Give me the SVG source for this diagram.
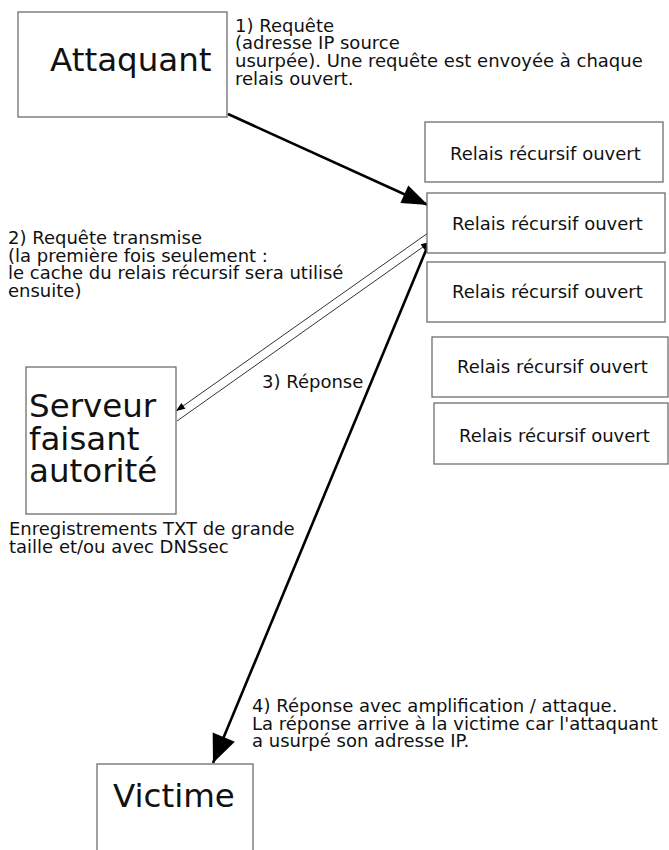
<svg xmlns="http://www.w3.org/2000/svg" width="669" height="850" viewBox="0 0 669 850">
  <style>
    .box { fill: #ffffff; stroke: #6e6e6e; stroke-width: 1.3; }
    .big { font-family: "DejaVu Sans", "Noto Sans", sans-serif; font-size: 32.5px; fill: #111111; }
    .txt { font-family: "DejaVu Sans", "Noto Sans", sans-serif; font-size: 18px; fill: #111111; }
    .thick { fill: none; stroke: #000000; stroke-width: 2.6; }
    .thin { fill: none; stroke: #333333; stroke-width: 1; }
  </style>
  <defs>
    <marker id="headL" markerUnits="userSpaceOnUse" viewBox="-30 -14 32 28" markerWidth="32" markerHeight="28" refX="0" refY="0" orient="auto">
      <path d="M0,0 L-26,-9.5 L-26,9.5 Z" fill="#000000"/>
    </marker>
    <marker id="headXL" markerUnits="userSpaceOnUse" viewBox="-32 -16 34 32" markerWidth="34" markerHeight="32" refX="0" refY="0" orient="auto">
      <path d="M0,0 L-28,-12 L-28,12 Z" fill="#000000"/>
    </marker>
    <marker id="headS" markerUnits="userSpaceOnUse" viewBox="-12 -6 14 12" markerWidth="14" markerHeight="12" refX="0" refY="0" orient="auto">
      <path d="M0,0 L-9,-3.5 L-9,3.5 Z" fill="#000000"/>
    </marker>
  </defs>

  <g id="connectors">
    <!-- 1) query from the attacker to the open resolver -->
    <line class="thick" x1="228" y1="114" x2="428" y2="205" marker-end="url(#headL)"/>
    <!-- 2) query forwarded to the authoritative server -->
    <line class="thin" x1="428" y1="233" x2="176" y2="411" marker-end="url(#headS)"/>
    <!-- 3) response back to the resolver -->
    <line class="thin" x1="177" y1="421" x2="430" y2="242" marker-end="url(#headS)"/>
    <!-- 4) amplified response to the victim -->
    <line class="thick" x1="429" y1="243" x2="213" y2="763" marker-end="url(#headXL)"/>
  </g>

  <g id="attaquant">
    <rect class="box" x="18" y="12" width="209" height="105"/>
    <text class="big" x="50" y="71">Attaquant</text>
  </g>

  <g id="relais-1">
    <rect class="box" x="425" y="122" width="238" height="60"/>
    <text class="txt" x="450" y="160">Relais récursif ouvert</text>
  </g>
  <g id="relais-2">
    <rect class="box" x="427" y="193" width="238" height="60"/>
    <text class="txt" x="452" y="230">Relais récursif ouvert</text>
  </g>
  <g id="relais-3">
    <rect class="box" x="427" y="262" width="238" height="60"/>
    <text class="txt" x="452" y="298">Relais récursif ouvert</text>
  </g>
  <g id="relais-4">
    <rect class="box" x="432" y="337" width="236" height="60"/>
    <text class="txt" x="457" y="373">Relais récursif ouvert</text>
  </g>
  <g id="relais-5">
    <rect class="box" x="434" y="403" width="234" height="61"/>
    <text class="txt" x="459" y="442">Relais récursif ouvert</text>
  </g>

  <g id="serveur">
    <rect class="box" x="26" y="367" width="150" height="147"/>
    <text class="big" x="29" y="417">Serveur<tspan x="29" y="449.5">faisant</tspan><tspan x="29" y="482">autorité</tspan></text>
  </g>

  <g id="victime">
    <rect class="box" x="97" y="764" width="156" height="100"/>
    <text class="big" x="113" y="807">Victime</text>
  </g>

  <g id="labels">
    <text class="txt" x="235" y="31.5">1) Requête<tspan x="235" y="49.3">(adresse IP source</tspan><tspan x="235" y="67.1">usurpée). Une requête est envoyée à chaque</tspan><tspan x="235" y="84.9">relais ouvert.</tspan></text>

    <text class="txt" x="8" y="244">2) Requête transmise<tspan x="8" y="261.5">(la première fois seulement :</tspan><tspan x="8" y="279">le cache du relais récursif sera utilisé</tspan><tspan x="8" y="296.5">ensuite)</tspan></text>

    <text class="txt" x="262" y="388">3) Réponse</text>

    <text class="txt" x="9" y="535">Enregistrements TXT de grande<tspan x="9" y="553">taille et/ou avec DNSsec</tspan></text>

    <text class="txt" x="252" y="712">4) Réponse avec amplification / attaque.<tspan x="252" y="729.5">La réponse arrive à la victime car l'attaquant</tspan><tspan x="252" y="747">a usurpé son adresse IP.</tspan></text>
  </g>
</svg>
